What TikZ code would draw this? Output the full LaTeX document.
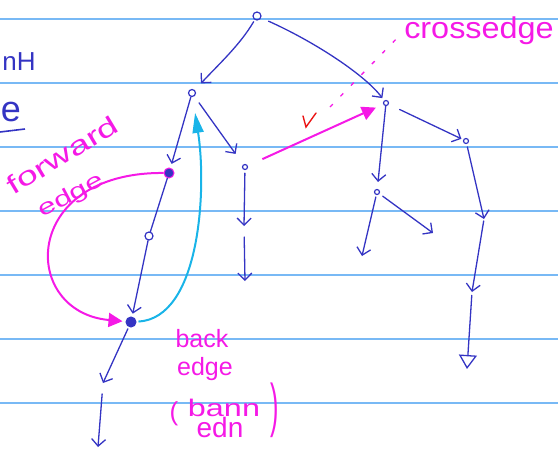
\documentclass[tikz,border=0pt]{standalone}
\usepackage{fontspec}
\setmainfont{Liberation Sans}
\usetikzlibrary{arrows.meta}
\definecolor{ink}{RGB}{52,52,195}
\definecolor{pinkink}{RGB}{245,25,230}
\definecolor{sky}{RGB}{25,180,232}
\definecolor{ruled}{RGB}{120,185,245}
\definecolor{checkred}{RGB}{235,20,20}
\begin{document}
\begin{tikzpicture}[x=1pt,y=-1pt,
  ruleline/.style={ruled, line width=1.6pt},
  edge/.style={ink, line width=1.3pt, line cap=round,
    -{Straight Barb[length=7pt,width=14pt,line width=1.3pt]}},
  plain/.style={ink, line width=1.3pt, line cap=round},
  vtx/.style={circle, draw=ink, line width=1.2pt, inner sep=0pt, minimum size=8pt},
  hook/.style={circle, draw=ink, line width=1.2pt, inner sep=0pt, minimum size=5pt},
  dotv/.style={circle, fill=ink, draw=ink, line width=1pt, inner sep=0pt, minimum size=10pt},
  pinkedge/.style={pinkink, line width=2pt, -{Triangle[length=14pt,width=14pt]}},
  backedge/.style={sky, line width=2pt, -{Triangle[length=20pt,width=11pt]}},
  note/.style={pinkink, inner sep=0pt},
  bluetext/.style={ink, inner sep=0pt},
]
\useasboundingbox (0,0) rectangle (558,461);
\foreach \yy in {19,83,147,211,275,339,403} \draw[ruleline] (0,\yy) -- (558,\yy);

% vertices
\node[vtx] (R) at (257,16) {};
\node[vtx, minimum size=7pt] (A) at (192,93) {};
\node[hook] (B) at (386,103) {};
\node[dotv, draw=pinkink] (C) at (169,173) {};
\node[hook] (D) at (245,167) {};
\node[vtx] (E) at (149,236) {};
\node[dotv] (F) at (131,322) {};
\node[hook] (G) at (377,192) {};
\node[hook] (H) at (466,141) {};

\coordinate (f1) at (103,383);
\coordinate (f2) at (98,447);
\coordinate (d1) at (244,226);
\coordinate (d2) at (245,281);
\coordinate (g1) at (362,256);
\coordinate (g2) at (433,233);
\coordinate (h1) at (484,219);
\coordinate (h2) at (472,292);
\coordinate (h3) at (467,369);

% tree edges
\draw[edge, shorten <=2pt, shorten >=9pt] (R) .. controls (240,45) and (218,65) .. (A);
\draw[edge, shorten <=8pt, shorten >=3pt] (R) .. controls (315,42) and (365,75) .. (B);
\draw[edge, shorten >=4pt] (A) -- (C);
\draw[edge, shorten <=8pt, shorten >=13pt] (A) -- (D);
\draw[plain] (C) -- (E);
\draw[edge, shorten >=3pt] (E) -- (F);
\draw[edge, shorten <=2pt] (F) -- (f1);
\draw[edge, shorten <=11pt] (f1) -- (f2);
\draw[edge, shorten <=3pt] (D) -- (d1);
\draw[edge, shorten <=11pt] (d1) -- (d2);
\draw[edge, shorten >=7pt] (B) -- (G);
\draw[edge, shorten <=2pt] (G) -- (g1);
\draw[edge, shorten <=4pt] (G) -- (g2);
\draw[edge, shorten <=12pt, shorten >=2pt] (B) -- (H);
\draw[edge, shorten <=3pt] (H) -- (h1);
\draw[edge, shorten <=2pt] (h1) -- (h2);
\draw[ink, line width=1.3pt, -{Triangle[open,length=14pt,width=18pt,line width=1.3pt]}, shorten <=3pt] (h2) -- (h3);

% special edges
\draw[pinkedge, shorten >=3pt] (C) .. controls (20,172) and (20,312) .. (F);
\draw[backedge, shorten <=2pt, shorten >=16pt] (F) .. controls (200,318) and (207,190) .. (A);
\draw[pinkedge, shorten <=16pt, shorten >=8pt] (D) -- (B);

% labels
\node[note, font=\fontsize{30}{30}\selectfont] (xl) at (479,31) {\scalebox{1.08}[1]{crossedge}};
\coordinate (cx) at (330,107);
\draw[pinkink, line width=1.3pt, dash pattern=on 4pt off 11pt, shorten >=10pt] (cx) -- (xl.west);
\draw[checkred, line width=1.4pt, line cap=round] (303,116) -- (306,127) -- (316,113);

\node[note, font=\fontsize{26}{26}\selectfont, rotate=31, anchor=base] (fw) at (67,163) {\scalebox{1.45}[1]{forward}};
\node[note, font=\fontsize{22}{22}\selectfont, rotate=28, anchor=base] (fe) at (74,201) {\scalebox{1.45}[1]{edge}};

\node[note, font=\fontsize{25}{25}\selectfont, anchor=base] (bk) at (202,347) {back};
\node[note, font=\fontsize{25}{25}\selectfont, anchor=base] (be) at (205,375) {edge};
\node[note, font=\fontsize{26}{26}\selectfont, anchor=base] (lp) at (174,420) {(};
\node[note, font=\fontsize{24}{24}\selectfont, anchor=base] (bn) at (224,416) {\scalebox{1.35}[1]{bann}};
\node[note, font=\fontsize{28}{28}\selectfont, anchor=base] (ed) at (220,437) {edn};
\node[note, font=\fontsize{28}{28}\selectfont] (rp) at (275,410) {\scalebox{0.9}[2.1]{)}};

\node[bluetext, font=\fontsize{26}{26}\selectfont, anchor=base] (t1) at (19,70) {nH};
\node[bluetext, font=\fontsize{36}{36}\selectfont, anchor=base] (t2) at (11,121) {e};
\draw[ink, line width=1.6pt] (0,132) -- (25,129);
\end{tikzpicture}
\end{document}
